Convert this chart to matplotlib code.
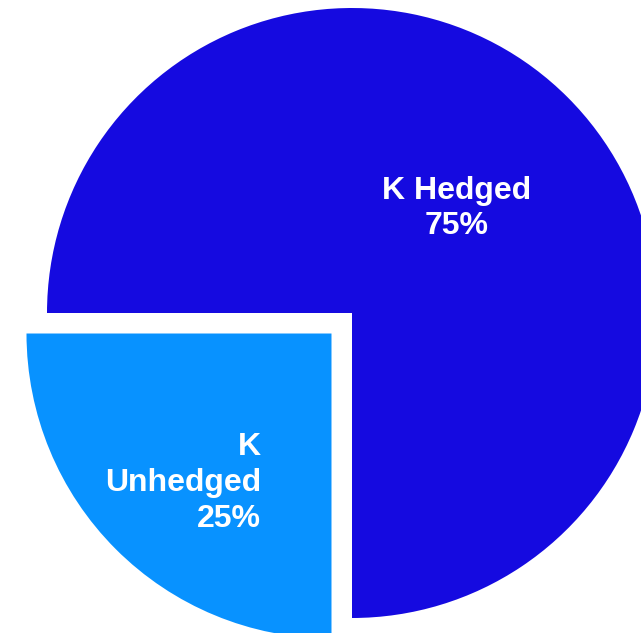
import matplotlib.pyplot as plt

labels = ['K Hedged\n75%', 'K\nUnhedged\n25%']
shares = [75, 25]
colors = ['#150ae0', '#0892ff']
explode = [0, 29]

fig = plt.figure(figsize=(6.41, 6.33), dpi=100)
ax = fig.add_axes([0, 0, 1, 1])

# pie drawn in pixel units so it can run off the right edge like the original
wedges, texts = ax.pie(shares, labels=labels, colors=colors, explode=explode,
                       startangle=-90, counterclock=True, radius=305,
                       center=(352, 320), labeldistance=0.485,
                       textprops=dict(color='white', fontsize=23,
                                      fontweight='bold', family='Liberation Sans'),
                       wedgeprops=dict(linewidth=0))
texts[0].set_ha('center')
texts[1].set_ha('right')
texts[1].set_position((261, 150))
for t in texts:
    t.set_linespacing(1.25)

ax.set_xlim(0, 641)
ax.set_ylim(0, 633)
ax.set_aspect('equal')
ax.axis('off')

fig.savefig('out.png', dpi=100)
